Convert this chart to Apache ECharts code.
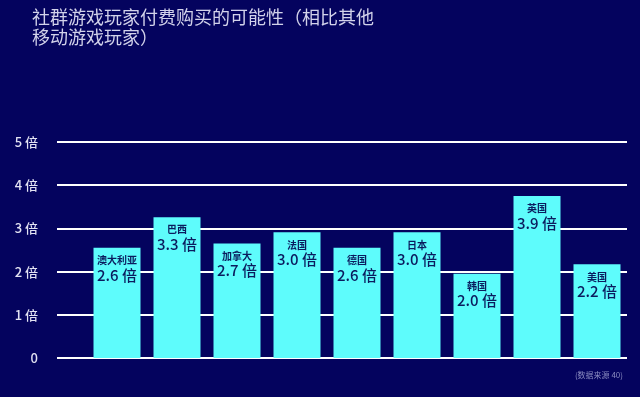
<!DOCTYPE html>
<html>
<head>
<meta charset="utf-8">
<script src="https://cdn.jsdelivr.net/npm/echarts@6/dist/echarts.min.js"></script>
<style>
  html, body { margin: 0; padding: 0; background: #04035e; }
  #chart { width: 640px; height: 397px; }
</style>
</head>
<body>
<div id="chart"></div>
<script>
// 国家 / 条形高度 / 标注文字
var countries = ['澳大利亚', '巴西', '加拿大', '法国', '德国', '日本', '韩国', '英国', '美国'];
var barValues = [2.55, 3.26, 2.65, 2.91, 2.55, 2.91, 1.95, 3.75, 2.17];
var valueLabels = ['2.6', '3.3', '2.7', '3.0', '2.6', '3.0', '2.0', '3.9', '2.2'];
var yTicks = ['0', '1 倍', '2 倍', '3 倍', '4 倍', '5 倍'];

var font = '"Noto Sans CJK SC", "Noto Sans", sans-serif';

var data = barValues.map(function (v, i) {
  return { value: [i, v], name: countries[i], label: { formatter: '{n|' + countries[i] + '}\n{v|' + valueLabels[i] + ' 倍}' } };
});

var chart = echarts.init(document.getElementById('chart'));
chart.setOption({
  backgroundColor: '#04035e',
  animation: false,
  title: [{
    text: '社群游戏玩家付费购买的可能性（相比其他\n移动游戏玩家）',
    left: 27,
    top: 2,
    textStyle: { color: '#d2d2ea', fontSize: 18, fontWeight: 'normal', fontFamily: font, lineHeight: 20 }
  }, {
    text: '(数据来源 40)',
    right: 12,
    top: 366,
    textStyle: { color: '#8a8cc0', fontSize: 8, fontWeight: 'normal', fontFamily: font }
  }],
  grid: { left: 57, right: 13, top: 142, bottom: 39 },
  xAxis: {
    type: 'value',
    min: -1,
    max: 8.5,
    axisLine: { show: false },
    axisTick: { show: false },
    axisLabel: { show: false },
    splitLine: { show: false }
  },
  yAxis: {
    type: 'value',
    min: 0,
    max: 5,
    interval: 1,
    axisLine: { show: false },
    axisTick: { show: false },
    axisLabel: {
      color: '#e2e2f2',
      fontSize: 13,
      fontWeight: 500,
      fontFamily: font,
      margin: 19,
      formatter: function (v) { return yTicks[v]; }
    },
    splitLine: { lineStyle: { color: '#ffffff', width: 2 } }
  },
  series: [{
    type: 'bar',
    barWidth: 47,
    itemStyle: { color: '#5efcfc' },
    label: {
      show: true,
      position: 'insideTop',
      distance: 6,
      align: 'center',
      rich: {
        n: { color: '#0b1c5e', fontSize: 10, fontWeight: 'bold', fontFamily: font, lineHeight: 13 },
        v: { color: '#0b1c5e', fontSize: 15, fontWeight: 500, fontFamily: font, lineHeight: 16 }
      }
    },
    data: data
  }]
});
</script>
</body>
</html>
